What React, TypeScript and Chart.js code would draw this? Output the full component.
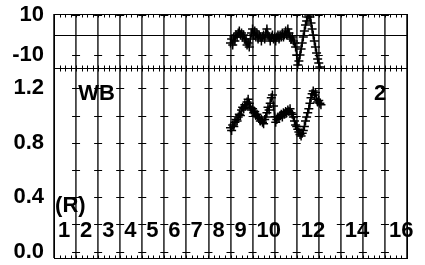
import { useEffect, useRef } from 'react';
import { Chart, registerables } from 'chart.js';

Chart.register(...registerables);

// ---- data ----
const xValues = [
  8.00, 8.05, 8.10, 8.15, 8.20, 8.25, 8.30, 8.35, 8.40, 8.45,
  8.50, 8.55, 8.60, 8.65, 8.70, 8.75, 8.80, 8.85, 8.90, 8.95,
  9.00, 9.05, 9.10, 9.15, 9.20, 9.25, 9.30, 9.35, 9.40, 9.45,
  9.50, 9.55, 9.60, 9.65, 9.70, 9.75, 9.80, 9.85, 9.90, 9.95,
  10.00, 10.05, 10.10, 10.15, 10.20, 10.25, 10.30, 10.35, 10.40, 10.45,
  10.50, 10.55, 10.60, 10.65, 10.70, 10.75, 10.80, 10.85, 10.90, 10.95,
  11.00, 11.05, 11.10, 11.15, 11.20, 11.25, 11.30, 11.35, 11.40, 11.45,
  11.50, 11.55, 11.60, 11.65, 11.70, 11.75, 11.80, 11.85, 11.90, 11.95,
  12.00, 12.05, 12.10,
];

const topValues = [
  -4, -2, -5, -1, -3, 0, -1, 1, 2, 0,
  1, -1, 0, -2, -3, -5, -4, -6, -2, 1,
  3, 0, 2, -1, 1, -2, 0, -1, -3, -1,
  0, -2, 1, 3, 0, -1, -3, -1, 0, -2,
  -1, -3, -1, 0, -2, 0, -1, 1, -1, 0,
  2, 0, 3, 1, -1, -2, -1, -3, -4, -6,
  -10, -15, -13, -10, -7, -4, -1, 2, 5, 7,
  9, 10, 9, 6, 3, 0, -3, -6, -9, -12,
  -14, -16, -18,
];

const bottomValues = [
  0.91, 0.89, 0.93, 0.92, 0.95, 0.97, 0.96, 0.99, 1.01, 1.00,
  1.04, 1.06, 1.05, 1.08, 1.07, 1.10, 1.12, 1.09, 1.06, 1.04,
  1.05, 1.02, 1.03, 1.00, 1.01, 0.99, 0.98, 0.96, 0.97, 0.95,
  0.94, 0.97, 0.99, 1.02, 1.06, 1.04, 1.09, 1.13, 1.15, 1.07,
  0.99, 0.95, 0.97, 0.99, 0.98, 1.00, 1.01, 0.99, 1.02, 1.01,
  1.03, 1.02, 1.04, 1.03, 1.05, 1.02, 1.01, 0.99, 0.96, 0.93,
  0.92, 0.90, 0.88, 0.86, 0.85, 0.87, 0.89, 0.92, 0.96, 0.99,
  1.02, 1.05, 1.09, 1.13, 1.16, 1.18, 1.15, 1.17, 1.12, 1.10,
  1.11, 1.09, 1.08,
];

const xGridValues = [0, 1, 2, 3, 4, 5, 6, 7, 8, 9, 10, 11, 12, 13, 14, 15, 16];
const topTickValues = [-10, 10];
const bottomTickValues = [0, 0.2, 0.4, 0.6, 0.8, 1.0, 1.2];
const bottomLabeledValues = [0, 0.4, 0.8, 1.2];

const channelLabels = ['1', '2', '3', '4', '5', '6', '7', '8', '9', '10', '12', '14', '16'];
const channelStarts = [0, 1, 2, 3, 4, 5, 6, 7, 8, 9, 11, 13, 15];
const channelLabelY = 0.15;

const notes = [
  { text: 'WB', x: 1.1, y: 1.16 },
  { text: '2', x: 14.5, y: 1.155 },
  { text: '(R)', x: 0.05, y: 0.335 },
];

const FONT = 'bold 22px "Liberation Sans", Arial, sans-serif';

const decorPlugin = {
  id: 'decor',
  beforeDatasetsDraw(chart: any) {
    const ctx = chart.ctx;
    const xs = chart.scales.x;
    const yt = chart.scales.yTop;
    const yb = chart.scales.yBottom;
    const left = xs.left;
    const right = xs.right;
    ctx.save();
    ctx.strokeStyle = '#000';
    ctx.lineWidth = 1;
    // zero line in top panel
    const y0 = Math.round(yt.getPixelForValue(0)) + 0.5;
    ctx.beginPath();
    ctx.moveTo(left, y0);
    ctx.lineTo(right, y0);
    ctx.stroke();
    // crosses on vertical grid lines
    const inner = xGridValues.filter((v) => v > 0 && v < 16);
    ctx.beginPath();
    for (const xv of inner) {
      const px = xs.getPixelForValue(xv);
      for (const tv of topTickValues) {
        const py = Math.round(yt.getPixelForValue(tv)) + 0.5;
        ctx.moveTo(px - 4, py);
        ctx.lineTo(px + 4, py);
      }
      for (const tv of bottomTickValues) {
        const py = Math.round(yb.getPixelForValue(tv)) + 0.5;
        ctx.moveTo(px - 4, py);
        ctx.lineTo(px + 4, py);
      }
    }
    ctx.stroke();
    // minor ticks along horizontal edges
    const topEdge = Math.round(yt.top) + 0.5;
    const mid = Math.round(yt.bottom) + 0.5;
    const bot = Math.round(yb.bottom) + 0.5;
    ctx.beginPath();
    for (let i = 0; i <= 64; i++) {
      const px = Math.round(xs.getPixelForValue(i / 4)) + 0.5;
      ctx.moveTo(px, topEdge);
      ctx.lineTo(px, topEdge + 3);
      ctx.moveTo(px, mid - 3);
      ctx.lineTo(px, mid + 3);
      ctx.moveTo(px, bot);
      ctx.lineTo(px, bot - 3);
    }
    ctx.stroke();
    // panel frames
    ctx.strokeRect(Math.round(left) + 0.5, topEdge, Math.round(right - left), mid - topEdge);
    ctx.strokeRect(Math.round(left) + 0.5, mid, Math.round(right - left), bot - mid);
    ctx.restore();
  },
  afterDatasetsDraw(chart: any) {
    const ctx = chart.ctx;
    const xs = chart.scales.x;
    const yb = chart.scales.yBottom;
    ctx.save();
    ctx.fillStyle = '#000';
    ctx.font = FONT;
    ctx.textAlign = 'left';
    ctx.textBaseline = 'middle';
    channelLabels.forEach((t, i) => {
      ctx.fillText(t, xs.getPixelForValue(channelStarts[i]) + 4, yb.getPixelForValue(channelLabelY));
    });
    for (const n of notes) {
      ctx.fillText(n.text, xs.getPixelForValue(n.x), yb.getPixelForValue(n.y));
    }
    ctx.restore();
  },
};

const noPad = (s: any) => {
  s.width = 54;
  s.paddingTop = 0;
  s.paddingBottom = 0;
};

export default function App() {
  const ref = useRef<HTMLCanvasElement | null>(null);
  useEffect(() => {
    if (!ref.current) return;
    const commonDs = {
      showLine: true,
      borderColor: '#000',
      backgroundColor: '#000',
      borderWidth: 1.5,
      pointStyle: 'cross',
      pointRadius: 4.5,
      pointBorderWidth: 1.5,
      pointBorderColor: '#000',
    };
    const tickFont = { family: '"Liberation Sans", Arial, sans-serif', size: 22, weight: 'bold' };
    const chart = new Chart(ref.current, {
      type: 'scatter',
      data: {
        datasets: [
          {
            ...commonDs,
            data: xValues.map((x, i) => ({ x, y: topValues[i] })),
            xAxisID: 'x',
            yAxisID: 'yTop',
          } as any,
          {
            ...commonDs,
            data: xValues.map((x, i) => ({ x, y: bottomValues[i] })),
            xAxisID: 'x',
            yAxisID: 'yBottom',
          } as any,
        ],
      },
      options: {
        animation: false,
        responsive: false,
        maintainAspectRatio: false,
        events: [],
        layout: { padding: { left: 0, top: 14, right: 18, bottom: 7 } },
        plugins: { legend: { display: false }, tooltip: { enabled: false } },
        scales: {
          x: {
            type: 'linear',
            min: 0,
            max: 16,
            afterBuildTicks: (s: any) => {
              s.ticks = xGridValues.map((v) => ({ value: v }));
            },
            afterFit: (s: any) => {
              s.height = 0;
              s.paddingLeft = 0;
              s.paddingRight = 0;
            },
            ticks: { display: false },
            grid: { color: '#444', lineWidth: 1.8, drawTicks: false },
            border: { display: false },
          },
          yBottom: {
            type: 'linear',
            position: 'left',
            stack: 'panels',
            stackWeight: 190,
            min: -0.046,
            max: 1.349,
            afterBuildTicks: (s: any) => {
              s.ticks = bottomLabeledValues.map((v) => ({ value: v }));
            },
            afterFit: noPad,
            ticks: {
              color: '#000',
              padding: 10,
              autoSkip: false,
              font: tickFont,
              callback: (v: any) => Number(v).toFixed(1),
            },
            grid: { display: false, drawTicks: false },
            border: { display: false },
          },
          yTop: {
            type: 'linear',
            position: 'left',
            stack: 'panels',
            stackWeight: 54,
            min: -16.5,
            max: 10.5,
            afterBuildTicks: (s: any) => {
              s.ticks = topTickValues.map((v) => ({ value: v }));
            },
            afterFit: noPad,
            ticks: {
              color: '#000',
              padding: 10,
              autoSkip: false,
              font: tickFont,
              callback: (v: any) => String(v),
            },
            grid: { display: false, drawTicks: false },
            border: { display: false },
          },
        },
      } as any,
      plugins: [decorPlugin],
    });
    return () => chart.destroy();
  }, []);
  return (
    <div style={{ position: 'absolute', left: 0, top: 0, width: 425, height: 265, background: '#fff' }}>
      <canvas ref={ref} width={425} height={265} />
    </div>
  );
}
